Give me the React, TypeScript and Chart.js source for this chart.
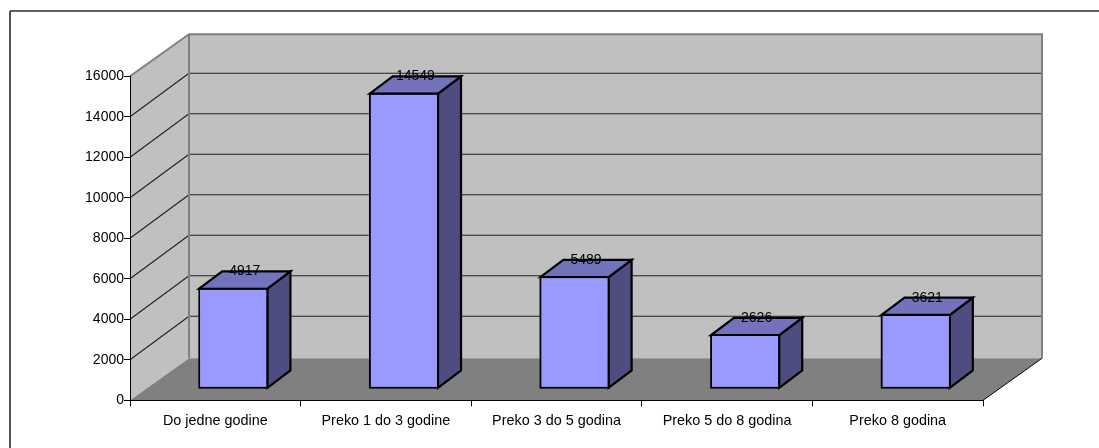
import React, { useEffect, useRef } from "react";
import { Chart, registerables } from "chart.js";

Chart.register(...registerables);

const categories = ["Do jedne godine", "Preko 1 do 3 godine", "Preko 3 do 5 godina", "Preko 5 do 8 godina", "Preko 8 godina"];
const values = [4917, 14549, 5489, 2626, 3621];
const yMax = 16000;
const yStep = 2000;

const W = 1099;
const H = 448;
const FONT = "Liberation Sans, Arial, sans-serif";
const wallDepth = { x: 59, y: -42 };
const gridDepthY = -43.6;
const barShift = { x: 18, y: -12 };
const barDepth = { x: 23, y: -17.3 };

function poly(ctx: CanvasRenderingContext2D, pts: number[][], fill?: string) {
  ctx.beginPath();
  pts.forEach((p, i) => (i ? ctx.lineTo(p[0], p[1]) : ctx.moveTo(p[0], p[1])));
  ctx.closePath();
  if (fill) {
    ctx.fillStyle = fill;
    ctx.fill();
  }
}

function line(ctx: CanvasRenderingContext2D, x0: number, y0: number, x1: number, y1: number) {
  ctx.beginPath();
  ctx.moveTo(x0, y0);
  ctx.lineTo(x1, y1);
  ctx.stroke();
}

const box3d = {
  id: "box3d",
  beforeDraw(chart: any) {
    const { ctx, chartArea: a, scales } = chart;
    const d = wallDepth;
    ctx.save();
    // outer frame: only the top and left edges fall inside the picture
    ctx.strokeStyle = "#2a2a2a";
    ctx.lineWidth = 1.6;
    line(ctx, W, 11, 10, 11);
    line(ctx, 10, 11, 10, H);
    // walls and floor
    poly(ctx, [[a.left + d.x, a.top + d.y], [a.right + d.x, a.top + d.y], [a.right + d.x, a.bottom + d.y], [a.left + d.x, a.bottom + d.y]], "#c0c0c0");
    poly(ctx, [[a.left, a.top], [a.left + d.x, a.top + d.y], [a.left + d.x, a.bottom + d.y], [a.left, a.bottom]], "#c0c0c0");
    poly(ctx, [[a.left, a.bottom], [a.left + d.x, a.bottom + d.y], [a.right + d.x, a.bottom + d.y], [a.right, a.bottom]], "#808080");
    // grid
    ctx.lineWidth = 1.1;
    ctx.strokeStyle = "#222";
    scales.y.ticks.forEach((t: any) => {
      if (t.value === 0 || t.value === yMax) return;
      const y = scales.y.getPixelForValue(t.value);
      line(ctx, a.left, y, a.left + d.x, y + gridDepthY);
      line(ctx, a.left + d.x, y + gridDepthY, a.right + d.x, y + gridDepthY);
    });
    // wall borders
    ctx.strokeStyle = "#808080";
    ctx.lineWidth = 2;
    ctx.beginPath();
    ctx.moveTo(a.left, a.top);
    ctx.lineTo(a.left + d.x, a.top + d.y);
    ctx.lineTo(a.right + d.x, a.top + d.y);
    ctx.lineTo(a.right + d.x, a.bottom + d.y);
    ctx.moveTo(a.left + d.x, a.top + d.y);
    ctx.lineTo(a.left + d.x, a.bottom + d.y);
    ctx.stroke();
    ctx.strokeStyle = "#000";
    ctx.lineWidth = 1;
    line(ctx, a.right, a.bottom, a.right + d.x, a.bottom + d.y);
    ctx.restore();
  },
  beforeDatasetsDraw(chart: any) {
    const { ctx } = chart;
    ctx.save();
    ctx.translate(barShift.x, barShift.y);
    const b = barDepth;
    chart.getDatasetMeta(0).data.forEach((el: any) => {
      const { x, y, base, width } = el.getProps(["x", "y", "base", "width"], true);
      const l = x - width / 2;
      const r = x + width / 2;
      ctx.lineWidth = 2.2;
      ctx.strokeStyle = "#000";
      ctx.lineJoin = "miter";
      poly(ctx, [[r, y], [r + b.x, y + b.y], [r + b.x, base + b.y], [r, base]], "#4d4d80");
      ctx.stroke();
      poly(ctx, [[l, y], [l + b.x, y + b.y], [r + b.x, y + b.y], [r, y]], "#7373bd");
      ctx.stroke();
    });
  },
  afterDatasetsDraw(chart: any) {
    const { ctx } = chart;
    const b = barDepth;
    ctx.lineWidth = 1.6;
    ctx.strokeStyle = "#000";
    ctx.fillStyle = "#000";
    ctx.font = `14px ${FONT}`;
    ctx.textAlign = "center";
    ctx.textBaseline = "middle";
    chart.getDatasetMeta(0).data.forEach((el: any, i: number) => {
      const { x, y, base, width } = el.getProps(["x", "y", "base", "width"], true);
      ctx.strokeRect(x - width / 2, y, width, base - y);
      ctx.fillText(String(values[i]), x + b.x / 2, y + b.y);
    });
    ctx.restore();
  },
};

export default function App() {
  const ref = useRef<HTMLCanvasElement>(null);
  useEffect(() => {
    const chart = new Chart(ref.current!, {
      type: "bar",
      data: {
        labels: categories,
        datasets: [
          {
            data: values,
            backgroundColor: "#9999ff",
            borderColor: "#000",
            borderWidth: 1,
            borderSkipped: false,
            categoryPercentage: 1,
            barPercentage: 0.4,
            clip: false,
          } as any,
        ],
      },
      options: {
        responsive: false,
        animation: false,
        devicePixelRatio: 1,
        layout: { padding: { left: 0, top: 76.3, right: W - 983, bottom: 0 } },
        plugins: { legend: { display: false }, tooltip: { enabled: false }, title: { display: false } },
        scales: {
          x: {
            afterFit: (s: any) => { s.height = H - 400.3; },
            grid: { drawOnChartArea: false, drawTicks: true, tickLength: 6, color: "#000", lineWidth: 1 },
            border: { color: "#000", width: 1 },
            ticks: { color: "#000", font: { family: FONT, size: 14.4 }, padding: 6, maxRotation: 0, autoSkip: false },
          },
          y: {
            min: 0,
            max: yMax,
            afterFit: (s: any) => { s.width = 130; },
            grid: { drawOnChartArea: false, drawTicks: true, tickLength: 6, color: "#000", lineWidth: 1 },
            border: { color: "#000", width: 1 },
            ticks: {
              stepSize: yStep,
              color: "#000",
              font: { family: FONT, size: 14 },
              padding: 0,
              callback: (v: any) => String(v),
            },
          },
        },
      },
      plugins: [box3d],
    } as any);
    return () => chart.destroy();
  }, []);
  return (
    <div style={{ position: "fixed", left: 0, top: 0, width: W, height: H, background: "#fff" }}>
      <canvas ref={ref} width={W} height={H} style={{ display: "block" }} />
    </div>
  );
}
